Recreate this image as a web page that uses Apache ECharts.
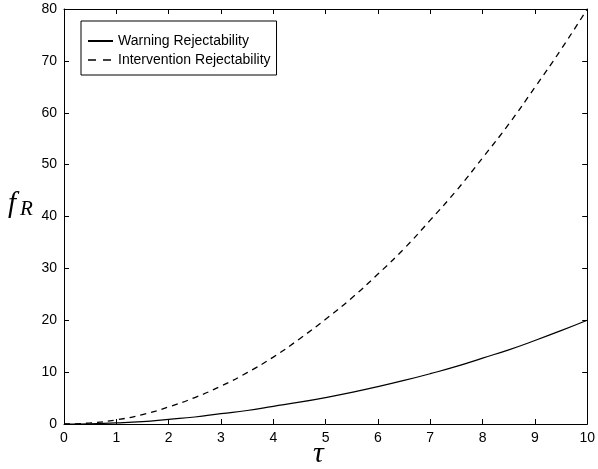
<!DOCTYPE html>
<html>
<head>
<meta charset="utf-8">
<script src="https://cdn.jsdelivr.net/npm/echarts@6/dist/echarts.min.js"></script>
<style>
html,body{margin:0;padding:0;background:#fff;}
#c{width:598px;height:469px;}
</style>
</head>
<body>
<div id="c"></div>
<script>
var tau = [0,0.5,1,1.5,2,2.5,3,3.5,4,4.5,5,5.5,6,6.5,7,7.5,8,8.5,9,9.5,10];
var warning = [0,0.05,0.2,0.45,0.9,1.35,2.0,2.6,3.4,4.2,5.1,6.1,7.2,8.4,9.7,11.1,12.7,14.3,16.1,18.0,20.0];
var intervention = [0,0.2,0.8,1.8,3.3,5.1,7.3,9.9,12.9,16.4,20.2,24.3,28.9,33.8,39.3,45.0,51.3,57.8,64.9,72.2,80.0];
var seriesNames = ['Warning Rejectability','Intervention Rejectability'];
var xTicks = {min:0, max:10, interval:1};
var yTicks = {min:0, max:80, interval:10};

function pairs(ys){ return tau.map(function(t,i){ return [t, ys[i]]; }); }

var chart = echarts.init(document.getElementById('c'), null, {renderer:'canvas'});
var FONT = 'Liberation Sans, Arial, Helvetica, sans-serif';
function axisBase(extra){
  var a = {
    type:'value',
    axisLine:{show:true, onZero:false, lineStyle:{color:'#000', width:1}},
    axisTick:{show:true, inside:true, length:5, lineStyle:{color:'#000', width:1}},
    splitLine:{show:false},
    axisLabel:{show:true, color:'#000', fontSize:14, fontFamily:FONT, margin:7}
  };
  for (var k in extra) a[k] = extra[k];
  return a;
}
chart.setOption({
  backgroundColor:'#fff',
  animation:false,
  grid:{left:64, right:9, top:9, bottom:45, containLabel:false},
  xAxis:[
    axisBase({min:xTicks.min, max:xTicks.max, interval:xTicks.interval, position:'bottom'}),
    axisBase({min:xTicks.min, max:xTicks.max, interval:xTicks.interval, position:'top', axisLabel:{show:false}})
  ],
  yAxis:[
    axisBase({min:yTicks.min, max:yTicks.max, interval:yTicks.interval, position:'left'}),
    axisBase({min:yTicks.min, max:yTicks.max, interval:yTicks.interval, position:'right', axisLabel:{show:false}})
  ],
  legend:{
    orient:'vertical', left:81, top:21,
    backgroundColor:'#fff',
    borderColor:'#000', borderWidth:1, borderRadius:0,
    padding:[13,6,8,6], itemGap:5, itemWidth:25, itemHeight:14,
    itemStyle:{opacity:0},
    textStyle:{color:'#000', fontSize:14, fontFamily:FONT},
    data:[
      {name:seriesNames[0]},
      {name:seriesNames[1], lineStyle:{type:[8,7], width:1.3, color:'#000'}}
    ]
  },
  series:[
    {name:seriesNames[0], type:'line', data:pairs(warning), symbol:'none', smooth:true,
     lineStyle:{color:'#000', width:1.2, type:'solid'}, itemStyle:{color:'#000'}},
    {name:seriesNames[1], type:'line', data:pairs(intervention), symbol:'none', smooth:true,
     lineStyle:{color:'#000', width:1.3, type:[6,5]}, itemStyle:{color:'#000'}}
  ],
  graphic:[
    {type:'text', left:8, top:190, style:{text:'f', font:'italic 29px "Liberation Serif", "DejaVu Serif", serif', fill:'#000'}},
    {type:'text', left:20, top:199, style:{text:'R', font:'italic 21px "Liberation Serif", "DejaVu Serif", serif', fill:'#000'}},
    {type:'text', left:313, top:439, style:{text:'τ', font:'italic 30px "Liberation Serif", "DejaVu Serif", serif', fill:'#000'}}
  ]
});
</script>
</body>
</html>
